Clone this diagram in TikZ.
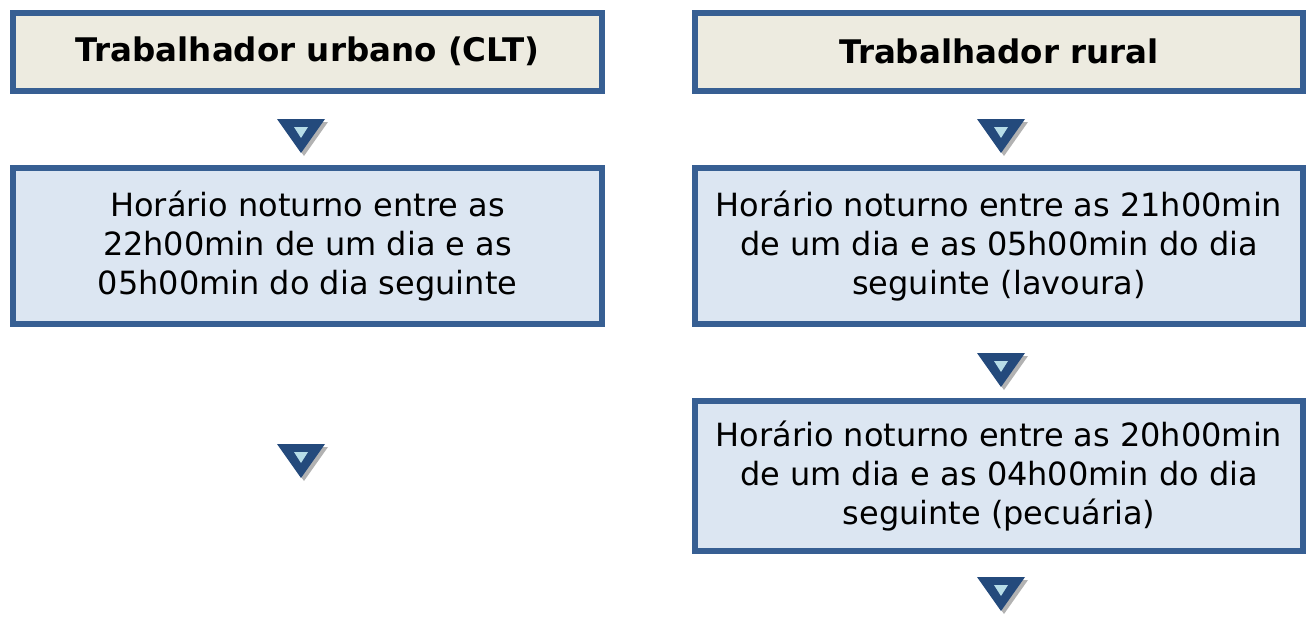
\documentclass[tikz,border=0pt]{standalone}
\usepackage{xcolor}
\usepackage{fontspec}
\setmainfont{DejaVu Sans}
\usepackage{tikz}
\usetikzlibrary{positioning}
\definecolor{borda}{HTML}{375F93}
\definecolor{bege}{HTML}{EDEBE0}
\definecolor{azulclaro}{HTML}{DCE6F2}
\definecolor{setaescura}{HTML}{244A7C}
\definecolor{setaclara}{HTML}{B7DDE8}
\tikzstyle{header} = [rectangle, minimum height=7.75mm, text centered, draw=borda, line width=0.6mm, fill=bege, font=\fontsize{9.25}{11.1}\selectfont\bfseries, inner sep=0pt]
\tikzstyle{info} = [rectangle, text centered, draw=borda, line width=0.6mm, fill=azulclaro, font=\fontsize{9.1}{11.1}\selectfont, inner sep=0pt, align=center]
\tikzset{seta/.pic={
    \fill[black!30] (-21,-14) -- (27,-14) -- (3,20) -- cycle;
    \fill[setaescura] (-24,-17) -- (24,-17) -- (0,17) -- cycle;
    \fill[setaclara] (-7,-9) -- (7,-9) -- (0,2) -- cycle;
}}

\begin{document}
\begin{tikzpicture}[x=0.1mm, y=-0.1mm, node distance=19.45mm]
    \useasboundingbox (0,0) rectangle (1306,625);
    % Caixas
    \node (urbano) [header, minimum width=58.9mm] at (307.5,51.75) {Trabalhador urbano (CLT)};
    \node (rural) [header, minimum width=60.8mm] at (999,51.75) {Trabalhador rural};
    \node (urbhora) [info, minimum width=58.9mm, minimum height=15.6mm, below of=urbano] {Horário noturno entre as\\22h00min de um dia e as\\05h00min do dia seguinte};
    \node (lavoura) [info, minimum width=60.8mm, minimum height=15.6mm, below of=rural] {Horário noturno entre as 21h00min\\de um dia e as 05h00min do dia\\seguinte (lavoura)};
    \node (pecuaria) [info, minimum width=60.8mm, minimum height=15.0mm, below of=lavoura, yshift=-3.55mm] {Horário noturno entre as 20h00min\\de um dia e as 04h00min do dia\\seguinte (pecuária)};

    % Setas
    \coordinate (seta1) at (301,136);
    \coordinate (seta2) at (1001,136);
    \coordinate (seta3) at (1001,370);
    \coordinate (seta4) at (301,461);
    \coordinate (seta5) at (1001,594);
    \foreach \s in {seta1,seta2,seta3,seta4,seta5}
        \pic at (\s) {seta};
\end{tikzpicture}
\end{document}
